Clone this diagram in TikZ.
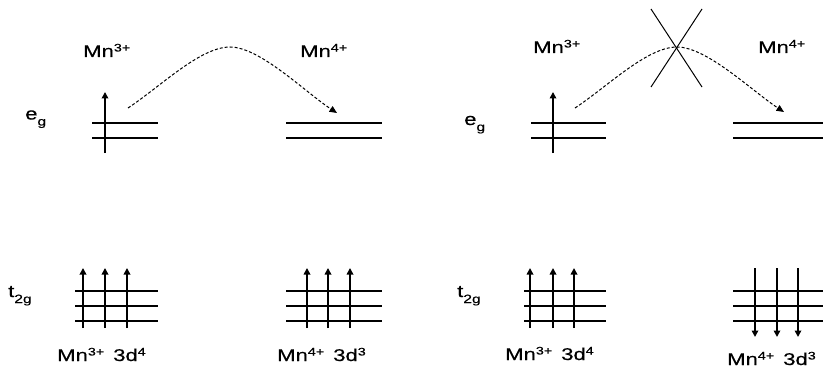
\documentclass[tikz,border=0pt]{standalone}
\usepackage{fontspec}
\setmainfont{Liberation Sans}[FakeStretch=1.3,FakeBold=0.4]
\usetikzlibrary{arrows.meta}
\newcommand\upidx[1]{\raisebox{5.5pt}{\fontsize{11}{12}\selectfont #1}}
\newcommand\dnidx[1]{\raisebox{-6pt}{\fontsize{12}{14}\selectfont #1}}
\begin{document}
\begin{tikzpicture}[x=1pt,y=-1pt,
  lvl/.style={line width=2.3pt},
  spin/.style={line width=1.6pt,-{Triangle[length=6.5pt,width=6.5pt]}},
  hop/.style={dash pattern=on 3pt off 2pt, line width=1pt,-{Triangle[length=7.5pt,width=6.5pt]}},
  cross/.style={line width=1pt},
  lbl/.style={inner sep=0pt, anchor=base west, font=\fontsize{17}{20}\selectfont}]
\useasboundingbox (0,0) rectangle (823,369);

% ---------- left panel ----------
\node[lbl] (mnA) at (83,57) {Mn\upidx{3+}};
\node[lbl] (mnB) at (300,57) {Mn\upidx{4+}};
\node[lbl] (egA) at (25,119.5) {e\dnidx{g}};
\node[lbl] (tgA) at (8,297) {t\dnidx{2g}};

\draw[lvl] (92,123) -- (158,123);
\draw[lvl] (92,138) -- (158,138);
\draw[spin] (105,153) -- (105,92);
\draw[lvl] (286,123) -- (382,123);
\draw[lvl] (286,138) -- (382,138);

\coordinate (hA1) at (128,108);
\coordinate (hA2) at (230,47);
\coordinate (hA3) at (337,113);
\draw[hop] (hA1) .. controls (160,87) and (200,47) .. (hA2)
                 .. controls (260,47) and (305,92) .. (hA3);

\foreach \y in {291,306,321} {
  \draw[lvl] (75,\y) -- (158,\y);
  \draw[lvl] (286,\y) -- (382,\y);
}
\foreach \x in {83,105,127} \draw[spin] (\x,328) -- (\x,268);
\foreach \x in {307,328,350} \draw[spin] (\x,328) -- (\x,268);

\node[lbl] (cfgA) at (57,361) {Mn\upidx{3+}\hspace{9pt}3d\upidx{4}};
\node[lbl] (cfgB) at (277,361) {Mn\upidx{4+}\hspace{9pt}3d\upidx{3}};

% ---------- right panel ----------
\node[lbl] (mnC) at (533,53) {Mn\upidx{3+}};
\node[lbl] (mnD) at (758,53) {Mn\upidx{4+}};
\node[lbl] (egB) at (464,125) {e\dnidx{g}};
\node[lbl] (tgB) at (457,297) {t\dnidx{2g}};

\draw[lvl] (531,123) -- (606,123);
\draw[lvl] (531,138) -- (606,138);
\draw[spin] (553,153) -- (553,92);
\draw[lvl] (733,123) -- (823,123);
\draw[lvl] (733,138) -- (823,138);

\coordinate (hB1) at (575,108);
\coordinate (hB2) at (677,47);
\coordinate (hB3) at (784,112);
\draw[hop] (hB1) .. controls (607,87) and (647,47) .. (hB2)
                 .. controls (707,47) and (752,91) .. (hB3);

\draw[cross] (651,9) -- (702,87);
\draw[cross] (702,9) -- (651,87);

\foreach \y in {291,306,321} {
  \draw[lvl] (524,\y) -- (606,\y);
  \draw[lvl] (733,\y) -- (823,\y);
}
\foreach \x in {530,553,574} \draw[spin] (\x,328) -- (\x,268);
\foreach \x in {755,777,798} \draw[spin] (\x,268) -- (\x,337);

\node[lbl] (cfgC) at (505,360) {Mn\upidx{3+}\hspace{9pt}3d\upidx{4}};
\node[lbl] (cfgD) at (727,365) {Mn\upidx{4+}\hspace{9pt}3d\upidx{3}};
\end{tikzpicture}
\end{document}
